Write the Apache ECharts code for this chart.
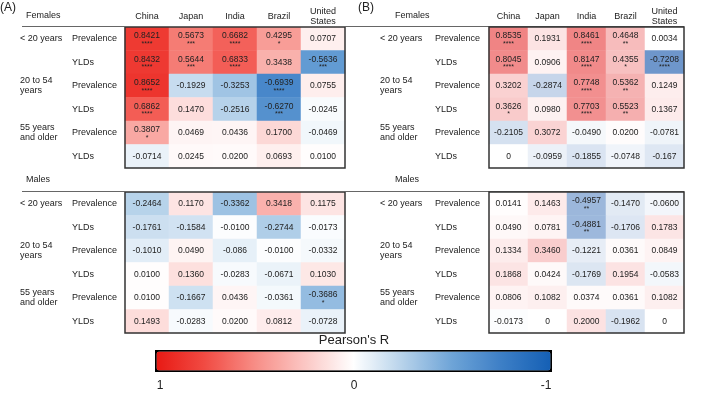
<!DOCTYPE html>
<html>
<head>
<meta charset="utf-8">
<script src="https://cdn.jsdelivr.net/npm/echarts@6/dist/echarts.min.js"></script>
<style>
html, body { margin: 0; padding: 0; background: #fff; }
#main { width: 709px; height: 416px; }
</style>
</head>
<body>
<div id="main"></div>
<script>
// categories
var countries = ['China', 'Japan', 'India', 'Brazil', 'United\nStates'];
var measures = ['Prevalence', 'YLDs', 'Prevalence', 'YLDs', 'Prevalence', 'YLDs'];
var ageGroups = ['< 20 years', '', '20 to 54\nyears', '', '55 years\nand older', ''];

// (A) Pearson's R, rows = measures, cols = countries
var femalesA = [
    ['0.8421', '0.5673', '0.6682', '0.4295', '0.0707'],
    ['0.8432', '0.5644', '0.6833', '0.3438', '-0.5636'],
    ['0.8652', '-0.1929', '-0.3253', '-0.6939', '0.0755'],
    ['0.6862', '0.1470', '-0.2516', '-0.6270', '-0.0245'],
    ['0.3807', '0.0469', '0.0436', '0.1700', '-0.0469'],
    ['-0.0714', '0.0245', '0.0200', '0.0693', '0.0100']
];
var femalesAStars = [
    ['****', '***', '****', '*', ''],
    ['****', '***', '****', '', '***'],
    ['****', '', '', '****', ''],
    ['****', '', '', '***', ''],
    ['*', '', '', '', ''],
    ['', '', '', '', '']
];
var malesA = [
    ['-0.2464', '0.1170', '-0.3362', '0.3418', '0.1175'],
    ['-0.1761', '-0.1584', '-0.0100', '-0.2744', '-0.0173'],
    ['-0.1010', '0.0490', '-0.086', '-0.0100', '-0.0332'],
    ['0.0100', '0.1360', '-0.0283', '-0.0671', '0.1030'],
    ['0.0100', '-0.1667', '0.0436', '-0.0361', '-0.3686'],
    ['0.1493', '-0.0283', '0.0200', '0.0812', '-0.0728']
];
var malesAStars = [
    ['', '', '', '', ''],
    ['', '', '', '', ''],
    ['', '', '', '', ''],
    ['', '', '', '', ''],
    ['', '', '', '', '*'],
    ['', '', '', '', '']
];

// (B)
var femalesB = [
    ['0.8535', '0.1931', '0.8461', '0.4648', '0.0034'],
    ['0.8045', '0.0906', '0.8147', '0.4355', '-0.7208'],
    ['0.3202', '-0.2874', '0.7748', '0.5362', '0.1249'],
    ['0.3626', '0.0980', '0.7703', '0.5523', '0.1367'],
    ['-0.2105', '0.3072', '-0.0490', '0.0200', '-0.0781'],
    ['0', '-0.0959', '-0.1855', '-0.0748', '-0.167']
];
var femalesBStars = [
    ['****', '', '****', '**', ''],
    ['****', '', '****', '*', '****'],
    ['', '', '****', '**', ''],
    ['*', '', '****', '**', ''],
    ['', '', '', '', ''],
    ['', '', '', '', '']
];
var malesB = [
    ['0.0141', '0.1463', '-0.4957', '-0.1470', '-0.0600'],
    ['0.0490', '0.0781', '-0.4881', '-0.1706', '0.1783'],
    ['0.1334', '0.3460', '-0.1221', '0.0361', '0.0849'],
    ['0.1868', '0.0424', '-0.1769', '0.1954', '-0.0583'],
    ['0.0806', '0.1082', '0.0374', '0.0361', '0.1082'],
    ['-0.0173', '0', '0.2000', '-0.1962', '0']
];
var malesBStars = [
    ['', '', '**', '', ''],
    ['', '', '**', '', ''],
    ['', '', '', '', ''],
    ['', '', '', '', ''],
    ['', '', '', '', ''],
    ['', '', '', '', '']
];

var scaleTicks = ['1', '0', '-1'];

var chart = echarts.init(document.getElementById('main'));
var FONT = 'Liberation Sans, Arial, sans-serif';

// panel layout
var panels = [
    { left: 125, width: 220, top: 27, header: true, measX: 72, ageX: 20 },
    { left: 125, width: 220, top: 192, header: false, measX: 72, ageX: 20 },
    { left: 489, width: 195, top: 27, header: true, measX: 435, ageX: 380 },
    { left: 489, width: 195, top: 192, header: false, measX: 435, ageX: 380 }
];
var H = 141;
var tables = [[femalesA, femalesAStars], [malesA, malesAStars], [femalesB, femalesBStars], [malesB, malesBStars]];

function cells(vals, stars) {
    var out = [];
    for (var r = 0; r < vals.length; r++) {
        for (var c = 0; c < vals[r].length; c++) {
            out.push([c, r, Number(vals[r][c]), vals[r][c], stars[r][c]]);
        }
    }
    return out;
}

var grids = [], xAxes = [], yAxes = [], series = [], graphics = [];
panels.forEach(function (p, i) {
    grids.push({ left: p.left, top: p.top, width: p.width, height: H, outerBoundsMode: 'none', containLabel: false });
    xAxes.push({
        type: 'category', gridIndex: i, data: countries, position: 'top',
        axisLine: { show: false }, axisTick: { show: false }, splitLine: { show: false },
        axisLabel: { show: p.header, color: '#222', fontFamily: FONT, fontSize: 9, lineHeight: 10, margin: 10, verticalAlign: 'middle', interval: 0 }
    });
    yAxes.push({
        type: 'category', gridIndex: i, data: measures, inverse: true, position: 'left',
        axisLine: { show: false }, axisTick: { show: false }, splitLine: { show: false },
        axisLabel: { color: '#222', fontFamily: FONT, fontSize: 9, align: 'left', margin: p.left - p.measX, interval: 0 }
    });
    yAxes.push({
        type: 'category', gridIndex: i, data: ageGroups, inverse: true, position: 'left',
        axisLine: { show: false }, axisTick: { show: false }, splitLine: { show: false },
        axisLabel: { color: '#222', fontFamily: FONT, fontSize: 9, lineHeight: 10, align: 'left', margin: p.left - p.ageX, interval: 0 }
    });
    series.push({
        type: 'heatmap', xAxisIndex: i, yAxisIndex: i * 2,
        data: cells(tables[i][0], tables[i][1]),
        emphasis: { disabled: true },
        label: {
            show: true,
            formatter: function (prm) {
                return prm.value[4] ? '{v|' + prm.value[3] + '}\n{s|' + prm.value[4] + '}' : '{v|' + prm.value[3] + '}';
            },
            rich: {
                v: { fontFamily: FONT, fontSize: 8.5, color: '#222', lineHeight: 10 },
                s: { fontFamily: FONT, fontSize: 7, color: '#222', lineHeight: 6 }
            }
        }
    });
    // rule across top of table and frame around cells
    graphics.push({
        type: 'line', z: 100,
        shape: { x1: 22, y1: p.top - 0.5, x2: p.left + p.width, y2: p.top - 0.5 },
        style: { stroke: '#666', lineWidth: 1 }
    });
    graphics.push({
        type: 'rect', z: 100,
        shape: { x: p.left, y: p.top, width: p.width, height: H },
        style: { fill: null, stroke: '#333', lineWidth: 1.5 }
    });
});

function txt(x, y, s, size, align) {
    return {
        type: 'text', x: x, y: y, z: 100,
        style: { text: s, fontFamily: FONT, fontSize: size, fill: '#222', align: align || 'left', verticalAlign: 'middle' }
    };
}
graphics.push(txt(0, 8, '(A)', 12));
graphics.push(txt(358, 8, '(B)', 12));
graphics.push(txt(26, 16, 'Females', 9));
graphics.push(txt(26, 180, 'Males', 9));
graphics.push(txt(395, 16, 'Females', 9));
graphics.push(txt(395, 180, 'Males', 9));
graphics.push(txt(354, 340, "Pearson's R", 13, 'center'));
graphics.push(txt(160, 386, scaleTicks[0], 12, 'center'));
graphics.push(txt(354, 386, scaleTicks[1], 12, 'center'));
graphics.push(txt(546, 386, scaleTicks[2], 12, 'center'));

var option = {
    animation: false,
    backgroundColor: '#fff',
    grid: grids,
    xAxis: xAxes,
    yAxis: yAxes,
    visualMap: [
        {
            type: 'continuous', min: -1, max: 1, dimension: 2, seriesIndex: [0, 1],
            orient: 'horizontal', inverse: true, left: 155, top: 350,
            itemWidth: 19, itemHeight: 394, text: null, calculable: false, hoverLink: false,
            padding: 0, borderColor: '#000', borderWidth: 3,
            inRange: { color: ['#1560b5', '#3d7fc6', '#6ea4d7', '#b6d2ea', '#ffffff', '#fbc6c3', '#f78d86', '#f14c44', '#e81a14'] }
        },
        {
            type: 'continuous', min: -1, max: 1, dimension: 2, seriesIndex: [2, 3], show: false,
            inRange: { color: ['#366db7', '#6892c9', '#9bb6db', '#cddbed', '#ffffff', '#fbdbdb', '#f6b7b7', '#f29393', '#ed6f6f'] }
        }
    ],
    graphic: graphics,
    series: series
};
chart.setOption(option);
</script>
</body>
</html>
